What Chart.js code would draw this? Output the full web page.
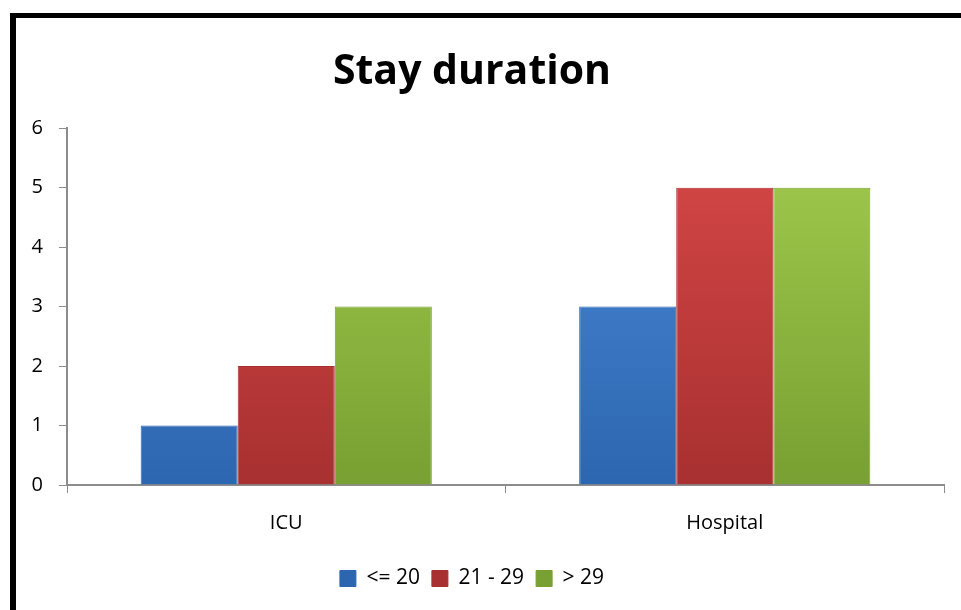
<!DOCTYPE html>
<html>
<head>
<meta charset="utf-8">
<script src="https://cdn.jsdelivr.net/npm/chart.js@4"></script>
<style>
  body { margin: 0; background: #fff; }
  #wrap { position: relative; width: 961px; height: 610px; overflow: hidden; }
  #frame { position: absolute; left: 10px; top: 13px; width: 1000px; height: 700px;
           border-top: 5px solid #000; border-left: 6px solid #000; }
  canvas { position: absolute; left: 0; top: 0; }
</style>
</head>
<body>
<div id="wrap">
  <div id="frame"></div>
  <canvas id="myChart" width="961" height="610"></canvas>
</div>
<script>
// カテゴリと系列
var categories = ['ICU', 'Hospital'];
var seriesNames = ['<= 20', '21 - 29', '> 29'];
var lowValues = [1, 3];
var midValues = [2, 5];
var highValues = [3, 5];
var yTicks = [0, 1, 2, 3, 4, 5, 6];

// 色（明るい色, 暗い色）
var palette = [
  ['#4a8ad8', '#2d66b0'],
  ['#d84848', '#a83030'],
  ['#a2cc4e', '#78a032']
];

function grad(i) {
  return function(c) {
    var area = c.chart.chartArea;
    if (!area) return palette[i][0];
    var g = c.chart.ctx.createLinearGradient(0, area.top, 0, area.bottom);
    g.addColorStop(0, palette[i][0]);
    g.addColorStop(1, palette[i][1]);
    return g;
  };
}

var font = "'Open Sans', sans-serif";
var ctx = document.getElementById('myChart').getContext('2d');
var chart = new Chart(ctx, {
  type: 'bar',
  data: {
    labels: categories,
    datasets: [lowValues, midValues, highValues].map(function(v, i) {
      return {
        label: seriesNames[i],
        data: v,
        backgroundColor: grad(i),
        borderColor: palette[i][1],
        borderWidth: 1,
        categoryPercentage: 0.664,
        barPercentage: 1
      };
    })
  },
  options: {
    responsive: false,
    animation: false,
    layout: { padding: { left: 0, right: 17, top: 0, bottom: 11 } },
    plugins: {
      title: {
        display: true,
        text: 'Stay duration',
        color: '#000',
        font: { family: font, size: 41, weight: 'bold' },
        padding: { top: 48, bottom: 31 }
      },
      legend: {
        position: 'bottom',
        labels: {
          color: '#000',
          font: { family: font, size: 21 },
          boxWidth: 16,
          boxHeight: 16,
          padding: 12
        }
      },
      tooltip: { enabled: false }
    },
    scales: {
      x: {
        grid: { drawOnChartArea: false, color: '#8c8c8c', tickLength: 8, offset: true },
        border: { color: '#8c8c8c', width: 2 },
        ticks: { color: '#000', font: { family: font, size: 20 }, padding: 18 },
        afterFit: function(s) { s.height = 71; }
      },
      y: {
        min: 0,
        max: 6,
        afterBuildTicks: function(s) { s.ticks = yTicks.map(function(v) { return { value: v }; }); },
        grid: { drawOnChartArea: false, color: '#8c8c8c', tickLength: 8 },
        border: { color: '#8c8c8c', width: 2 },
        ticks: { color: '#000', font: { family: font, size: 20 }, padding: 16 },
        afterFit: function(s) { s.width = 67; }
      }
    }
  }
});
</script>
</body>
</html>
